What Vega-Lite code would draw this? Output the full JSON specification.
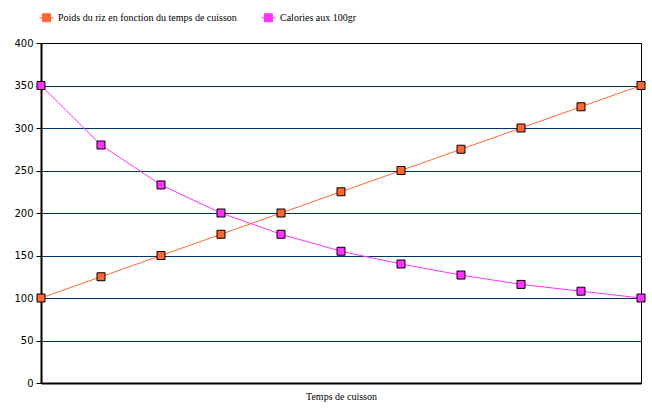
{
  "$schema": "https://vega.github.io/schema/vega-lite/v6.json",
  "autosize": "none",
  "width": 600,
  "height": 340,
  "padding": {"left": 41, "top": 43, "right": 11, "bottom": 27},
  "background": "white",
  "config": {
    "view": {"stroke": "black", "strokeWidth": 1},
    "font": "Liberation Serif"
  },
  "data": {"values": [
    {"t": 0, "serie": "Poids du riz en fonction du temps de cuisson", "v": 100},
    {"t": 1, "serie": "Poids du riz en fonction du temps de cuisson", "v": 125},
    {"t": 2, "serie": "Poids du riz en fonction du temps de cuisson", "v": 150},
    {"t": 3, "serie": "Poids du riz en fonction du temps de cuisson", "v": 175},
    {"t": 4, "serie": "Poids du riz en fonction du temps de cuisson", "v": 200},
    {"t": 5, "serie": "Poids du riz en fonction du temps de cuisson", "v": 225},
    {"t": 6, "serie": "Poids du riz en fonction du temps de cuisson", "v": 250},
    {"t": 7, "serie": "Poids du riz en fonction du temps de cuisson", "v": 275},
    {"t": 8, "serie": "Poids du riz en fonction du temps de cuisson", "v": 300},
    {"t": 9, "serie": "Poids du riz en fonction du temps de cuisson", "v": 325},
    {"t": 10, "serie": "Poids du riz en fonction du temps de cuisson", "v": 350},
    {"t": 0, "serie": "Calories aux 100gr", "v": 350},
    {"t": 1, "serie": "Calories aux 100gr", "v": 280},
    {"t": 2, "serie": "Calories aux 100gr", "v": 233},
    {"t": 3, "serie": "Calories aux 100gr", "v": 200},
    {"t": 4, "serie": "Calories aux 100gr", "v": 175},
    {"t": 5, "serie": "Calories aux 100gr", "v": 155},
    {"t": 6, "serie": "Calories aux 100gr", "v": 140},
    {"t": 7, "serie": "Calories aux 100gr", "v": 127},
    {"t": 8, "serie": "Calories aux 100gr", "v": 116},
    {"t": 9, "serie": "Calories aux 100gr", "v": 108},
    {"t": 10, "serie": "Calories aux 100gr", "v": 100}
  ]},
  "encoding": {
    "x": {"field": "t", "type": "quantitative", "scale": {"domain": [0, 10], "nice": false, "zero": false},
      "axis": {"title": "Temps de cuisson", "titleFont": "Liberation Serif", "titleFontSize": 10, "titleFontWeight": "normal", "titleColor": "black", "titlePadding": 8,
        "labels": false, "ticks": false, "grid": false, "domainColor": "black", "domainWidth": 2}},
    "y": {"field": "v", "type": "quantitative", "scale": {"domain": [0, 400], "nice": false},
      "axis": {"title": null, "values": [0, 50, 100, 150, 200, 250, 300, 350, 400],
        "labelFont": "DejaVu Sans", "labelFontSize": 10, "labelColor": "black", "labelPadding": 3,
        "tickColor": "black", "tickSize": 5, "domainColor": "black", "domainWidth": 2,
        "grid": true, "gridColor": {"condition": {"test": "datum.value == 400", "value": "black"}, "value": "#003366"}, "gridOpacity": 1, "gridWidth": 1}},
    "color": {"field": "serie", "type": "nominal",
      "scale": {"domain": ["Poids du riz en fonction du temps de cuisson", "Calories aux 100gr"], "range": ["#FF6633", "#FF33FF"]},
      "legend": {"title": null, "orient": "none", "direction": "horizontal", "legendX": 0, "legendY": -31,
        "labelFont": "Liberation Serif", "labelFontSize": 10, "labelColor": "black", "labelLimit": 400, "columnPadding": 22,
        "symbolType": "M-1.4,0H-0.8M0.8,0H1.4M-0.8,-0.8H0.8V0.8H-0.8Z", "symbolSize": 100, "symbolStrokeColor": "black", "symbolStrokeWidth": 1, "symbolOpacity": 1, "labelOffset": 6}}
  },
  "layer": [
    {"mark": {"type": "line", "strokeWidth": 1}},
    {"mark": {"type": "point", "shape": "square", "filled": true, "size": 64, "stroke": "black", "strokeWidth": 1, "opacity": 1}}
  ]
}
